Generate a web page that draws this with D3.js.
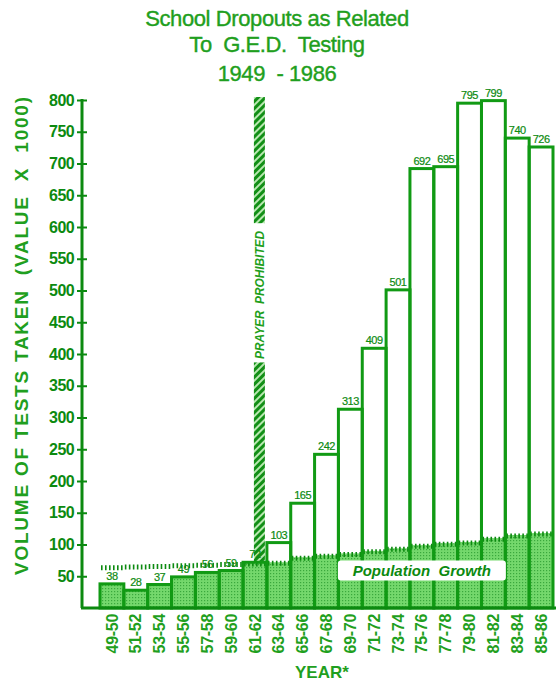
<!DOCTYPE html>
<html>
<head>
<meta charset="utf-8">
<script src="https://cdn.jsdelivr.net/npm/d3@7"></script>
<style>
  body { margin: 0; background: #fff; }
  text { font-family: "Liberation Sans", Arial, Helvetica, sans-serif; white-space: pre; }
</style>
</head>
<body>
<svg id="chart" width="560" height="685"></svg>
<script>
// chart values
var years = ["49-50","51-52","53-54","55-56","57-58","59-60","61-62","63-64","65-66","67-68",
             "69-70","71-72","73-74","75-76","77-78","79-80","81-82","83-84","85-86"];
var tests = [38, 28, 37, 49, 56, 59, 72, 103, 165, 242, 313, 409, 501, 692, 695, 795, 799, 740, 726];
var population = [65, 66, 67, 68, 69, 70, 71, 72, 80, 83, 86, 90, 94, 99, 102, 104, 110, 115, 118];
var yTicks = d3.range(50, 801, 50);
var titleLines = ["School Dropouts as Related", "To  G.E.D.  Testing", "1949  - 1986"];

var dark = "#0c8a10", bright = "#1f9f20", light = "#74d86c";

var svg = d3.select("#chart");
var defs = svg.append("defs");

// dotted light-green fill
var dots = defs.append("pattern")
    .attr("id", "dots")
    .attr("patternUnits", "userSpaceOnUse")
    .attr("width", 3).attr("height", 3);
dots.append("rect").attr("width", 3).attr("height", 3).attr("fill", light);
dots.append("rect").attr("width", 1.2).attr("height", 1.2).attr("fill", "#3aa83c");

// rope-like hatch for the prayer band
var hatch = defs.append("pattern")
    .attr("id", "hatch")
    .attr("patternUnits", "userSpaceOnUse")
    .attr("width", 5).attr("height", 5)
    .attr("patternTransform", "rotate(-45)");
hatch.append("rect").attr("width", 5).attr("height", 5).attr("fill", "#b8e8b0");
hatch.append("rect").attr("width", 5).attr("height", 3).attr("fill", "#128f16");

var x = d3.scaleBand().domain(years).range([100, 553]).padding(0);
var y = d3.scaleLinear().domain([0, 800]).range([608, 100]);
var bw = x.bandwidth();

// title
svg.append("g").selectAll("text")
    .data(titleLines)
    .enter()
    .append("text")
    .attr("x", 277)
    .attr("y", (d, i) => [26, 52, 81][i])
    .attr("text-anchor", "middle")
    .attr("font-size", "22px")
    .attr("letter-spacing", "-0.4px")
    .attr("fill", bright)
    .attr("stroke", bright)
    .attr("stroke-width", 0.4)
    .text(d => d);

// population fill inside the bars
var rows = years.map((d, i) => ({ year: d, value: tests[i], pop: population[i] }));

svg.append("g").selectAll("rect")
    .data(rows)
    .enter()
    .append("rect")
    .attr("x", d => x(d.year))
    .attr("y", d => y(Math.min(d.value, d.pop)))
    .attr("width", bw)
    .attr("height", d => y(0) - y(Math.min(d.value, d.pop)))
    .attr("fill", "url(#dots)");

// population level ticks
svg.append("g").selectAll("line")
    .data(rows)
    .enter()
    .append("line")
    .attr("x1", d => x(d.year) + 1)
    .attr("x2", d => x(d.year) + bw - 1)
    .attr("y1", d => y(d.pop) + 1)
    .attr("y2", d => y(d.pop) + 1)
    .attr("stroke", dark)
    .attr("stroke-width", 5)
    .attr("stroke-dasharray", "1.6 2.4");

// prayer prohibited band
var bandX = x("61-62") + bw - 13;
var bandParts = [[800, 606], [382, 72]];
svg.append("g").selectAll("rect")
    .data(bandParts)
    .enter()
    .append("rect")
    .attr("x", bandX)
    .attr("y", d => y(d[0]) - 3)
    .attr("width", 11)
    .attr("height", d => y(d[1]) - y(d[0]) + 3)
    .attr("fill", "url(#hatch)");

svg.append("text")
    .attr("transform", "translate(" + (bandX + 10) + "," + y(493) + ") rotate(-90)")
    .attr("text-anchor", "middle")
    .attr("font-size", "13px")
    .attr("font-weight", "bold")
    .attr("font-style", "italic")
    .attr("textLength", 128)
    .attr("lengthAdjust", "spacingAndGlyphs")
    .attr("fill", bright)
    .text("PRAYER  PROHIBITED");

// bar outlines
svg.append("g").selectAll("rect")
    .data(rows)
    .enter()
    .append("rect")
    .attr("x", d => x(d.year))
    .attr("y", d => y(d.value))
    .attr("width", bw)
    .attr("height", d => y(0) - y(d.value))
    .attr("fill", "none")
    .attr("stroke", "#119a14")
    .attr("stroke-width", 3);

// value labels
svg.append("g").selectAll("text")
    .data(rows)
    .enter()
    .append("text")
    .attr("x", d => x(d.year) + bw / 2)
    .attr("y", d => y(d.value) - 4)
    .attr("text-anchor", "middle")
    .attr("font-size", "11px")
    .attr("letter-spacing", "-0.5px")
    .attr("fill", dark)
    .attr("stroke", dark)
    .attr("stroke-width", 0.2)
    .text(d => d.value);

// population growth label
var popX = x("75-76") + bw / 2;
svg.append("rect")
    .attr("x", popX - 84)
    .attr("y", y(51) - 15)
    .attr("width", 168)
    .attr("height", 20)
    .attr("rx", 3)
    .attr("fill", "#fff");
svg.append("text")
    .attr("x", popX)
    .attr("y", y(51))
    .attr("text-anchor", "middle")
    .attr("font-size", "15px")
    .attr("font-weight", "bold")
    .attr("font-style", "italic")
    .attr("fill", dark)
    .text("Population  Growth");

// y axis
var yAxis = svg.append("g")
    .attr("transform", "translate(82,0)")
    .call(d3.axisLeft(y).tickValues(yTicks).tickSize(5).tickPadding(3));
yAxis.select(".domain").remove();
yAxis.selectAll(".tick line").attr("stroke", dark).attr("stroke-width", 2);
yAxis.selectAll(".tick").append("line")
    .attr("x2", 5).attr("stroke", dark).attr("stroke-width", 2);
yAxis.selectAll(".tick text")
    .attr("fill", dark)
    .attr("font-size", "16px")
    .attr("font-weight", "bold")
    .attr("letter-spacing", "-0.6px")
    .style("font-family", "'Liberation Sans', Arial, sans-serif");
yAxis.append("line")
    .attr("y1", y(800) - 1).attr("y2", y(0))
    .attr("stroke", dark).attr("stroke-width", 3);

// x axis
var xAxis = svg.append("g")
    .attr("transform", "translate(0," + y(0) + ")")
    .call(d3.axisBottom(x).tickSize(0));
xAxis.select(".domain").remove();
xAxis.selectAll(".tick text")
    .attr("transform", "rotate(-90)")
    .attr("text-anchor", "end")
    .attr("x", -6)
    .attr("y", 0)
    .attr("dy", "0.35em")
    .attr("fill", bright)
    .attr("font-size", "16px")
    .attr("font-weight", "bold")
    .attr("letter-spacing", "-0.3px")
    .style("font-family", "'Liberation Sans', Arial, sans-serif");
xAxis.append("line")
    .attr("x1", 81).attr("x2", 556)
    .attr("stroke", dark).attr("stroke-width", 3);

// axis titles
svg.append("text")
    .attr("transform", "translate(28,336) rotate(-90)")
    .attr("text-anchor", "middle")
    .attr("font-size", "19px")
    .attr("font-weight", "bold")
    .attr("textLength", 478)
    .attr("lengthAdjust", "spacing")
    .attr("fill", bright)
    .text("VOLUME OF TESTS TAKEN  (VALUE  X  1000)");

svg.append("text")
    .attr("x", 295)
    .attr("y", 678)
    .attr("font-size", "17px")
    .attr("font-weight", "bold")
    .attr("fill", bright)
    .text("YEAR*");
</script>
</body>
</html>
